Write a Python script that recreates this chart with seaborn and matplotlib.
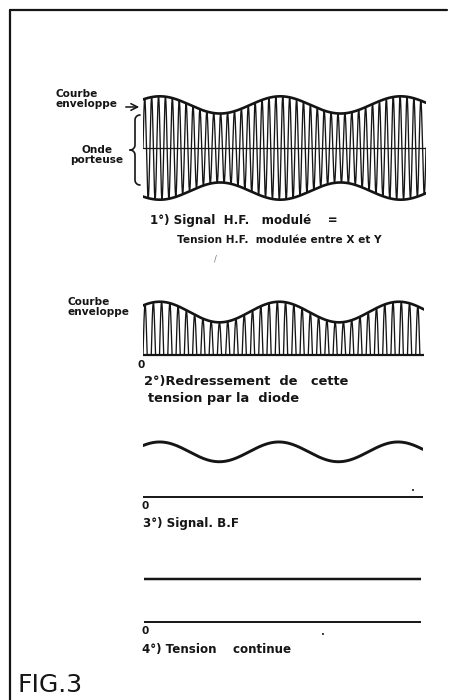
import numpy as np
import pandas as pd
import seaborn as sns
import matplotlib.pyplot as plt

# Values (time in periods of the B.F. signal,
# amplitude in units of the mean envelope height)
t_start, t_end = -0.14, 2.21
hf_cycles = 41          # carrier strokes across panel 1
rect_cycles = 34        # rectified half-waves across panel 2
dc_level = 1.0          # mean envelope height
hf_depth = 0.20         # modulation depth, panel 1
rect_depth = 0.24       # envelope swing, panel 2
bf_level = 1.05         # B.F. signal centre above zero, panel 3
bf_depth = 0.23         # B.F. signal swing, panel 3
dc_out = 1.0            # continuous voltage, panel 4

labels = {
    'env1': 'Courbe\nenveloppe',
    'carrier': 'Onde\nporteuse',
    'cap1a': '1°) Signal  H.F.   modulé    =',
    'cap1b': 'Tension H.F.  modulée entre X et Y',
    'env2': 'Courbe\nenveloppe',
    'cap2a': '2°)Redressement  de   cette',
    'cap2b': 'tension par la  diode',
    'cap3': '3°) Signal. B.F',
    'cap4': '4°) Tension    continue',
    'fig': 'FIG.3',
}

sns.set_theme(style='white')
plt.rcParams['font.family'] = ['Liberation Sans Narrow', 'DejaVu Sans']
ink = '#151515'

t = np.linspace(t_start, t_end, 4000)
span = t_end - t_start
env_hf = dc_level + hf_depth * np.cos(2 * np.pi * t)
env_rect = dc_level + rect_depth * np.cos(2 * np.pi * t)
carrier = np.sin(2 * np.pi * hf_cycles / span * (t - t_start))
rect = np.clip(np.sin(2 * np.pi * rect_cycles / span * (t - t_start)), 0, None)

df = pd.DataFrame({
    't': t,
    'env_hf': env_hf,
    'hf': env_hf * carrier,
    'env_rect': env_rect,
    'rect': env_rect * rect,
    'bf': bf_level + bf_depth * np.cos(2 * np.pi * t),
    'dc': dc_out,
})

fig = plt.figure(figsize=(4.5, 7), dpi=100)
fig.patch.set_facecolor('white')

# background axes in pixel units for frame and lettering
bg = fig.add_axes([0, 0, 1, 1])
bg.set_xlim(0, 450)
bg.set_ylim(700, 0)
bg.axis('off')
bg.plot([10, 10], [700, 10], color=ink, lw=1.6)
bg.plot([10, 447], [10, 10], color=ink, lw=1.6)


def panel(x0, x1, ytop, ybot, ylim):
    ax = fig.add_axes([x0 / 450, 1 - ybot / 700, (x1 - x0) / 450, (ybot - ytop) / 700])
    ax.set_xlim(t_start, t_end)
    ax.set_ylim(*ylim)
    ax.axis('off')
    ax.patch.set_alpha(0)
    return ax


# 1) modulated H.F.
ax1 = panel(143, 426, 92, 204, (-1.3, 1.3))
sns.lineplot(data=df, x='t', y='hf', ax=ax1, color=ink, lw=0.95, sort=False)
sns.lineplot(x=df['t'], y=df['env_hf'], ax=ax1, color=ink, lw=1.9)
sns.lineplot(x=df['t'], y=-df['env_hf'], ax=ax1, color=ink, lw=1.9)
ax1.axhline(0, color=ink, lw=0.9)

# 2) rectified by the diode
ax2 = panel(143, 424, 297, 359.3, (-0.1, 1.35))
sns.lineplot(data=df, x='t', y='rect', ax=ax2, color=ink, lw=0.95, sort=False)
sns.lineplot(data=df, x='t', y='env_rect', ax=ax2, color=ink, lw=1.9)
ax2.axhline(0, color=ink, lw=1.6)

# 3) B.F. signal
ax3 = panel(143, 423, 436.8, 501.3, (-0.1, 1.4))
sns.lineplot(data=df, x='t', y='bf', ax=ax3, color=ink, lw=2.1)
ax3.axhline(0, color=ink, lw=1.4)

# 4) continuous voltage
ax4 = panel(144, 421, 561.8, 626.3, (-0.1, 1.4))
sns.lineplot(data=df, x='t', y='dc', ax=ax4, color=ink, lw=1.8)
ax4.axhline(0, color=ink, lw=1.4)

txt = dict(color=ink, fontsize=7.6, fontweight='bold', va='top')
cap = dict(txt, fontsize=8.6)
cap2 = dict(txt, fontsize=9.4)

bg.text(56, 89, labels['env1'], ha='left', linespacing=1.05, **txt)
bg.annotate('', xy=(142, 107), xytext=(123, 107),
            arrowprops=dict(arrowstyle='->', color=ink, lw=1.1))
bg.text(97, 145, labels['carrier'], ha='center', linespacing=1.05, **txt)

# brace beside "Onde porteuse"
r = 5
a = np.linspace(-np.pi / 2, -np.pi, 20)
b = np.linspace(0, np.pi / 2, 20)
bx = np.concatenate([140 + r * np.cos(a), 130 + r * np.cos(b)])
by = np.concatenate([120 + r * np.sin(a), 145 + r * np.sin(b)])
bg.plot(bx, by, color=ink, lw=1.2)
bg.plot(bx, 300 - by, color=ink, lw=1.2)

bg.text(150, 214, labels['cap1a'], ha='left', **cap)
bg.text(177, 235, labels['cap1b'], ha='left', **txt)
bg.text(214, 262, '/', ha='left', color='#777777', fontsize=6)

bg.text(68, 297, labels['env2'], ha='left', linespacing=1.05, **txt)
bg.text(137, 360, '0', ha='left', **txt)
bg.text(144, 375, labels['cap2a'], ha='left', **cap2)
bg.text(148, 392, labels['cap2b'], ha='left', **cap2)

bg.text(142, 501, '0', ha='left', **txt)
bg.text(143, 517, labels['cap3'], ha='left', **cap)
bg.text(413, 491, '•', ha='center', va='center', color=ink, fontsize=5)

bg.text(141, 626, '0', ha='left', **txt)
bg.text(142, 643, labels['cap4'], ha='left', **cap)
bg.text(323, 635, '•', ha='center', va='center', color=ink, fontsize=5)

bg.text(18, 697, labels['fig'], ha='left', va='bottom', color=ink,
        fontsize=18, family=['Liberation Sans Narrow', 'DejaVu Sans'])

plt.savefig('out.png', dpi=100, facecolor='white')
